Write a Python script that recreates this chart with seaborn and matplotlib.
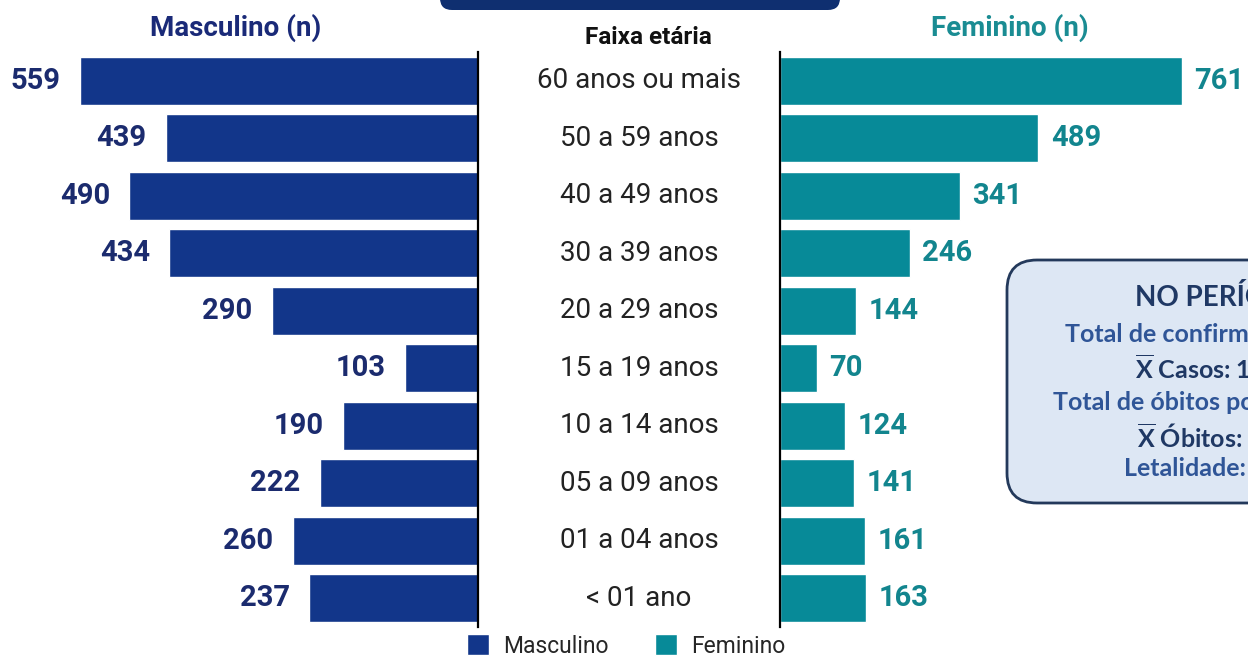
import matplotlib
matplotlib.use('Agg')
import matplotlib.pyplot as plt
import seaborn as sns
import pandas as pd
from matplotlib.patches import FancyBboxPatch, Patch
import matplotlib.transforms as mtransforms

## ---------------- dados ----------------
faixas = ['60 anos ou mais', '50 a 59 anos', '40 a 49 anos', '30 a 39 anos',
          '20 a 29 anos', '15 a 19 anos', '10 a 14 anos', '05 a 09 anos',
          '01 a 04 anos', '< 01 ano']
masculino = [559, 439, 490, 434, 290, 103, 190, 222, 260, 237]
feminino = [761, 489, 341, 246, 144, 70, 124, 141, 161, 163]

quadro_linhas = ['NO PERÍODO', 'Total de confirmados',
                 r'$\overline{\mathbf{X}}$ Casos: 1',
                 'Total de óbitos por', r'$\overline{\mathbf{X}}$ Óbitos:',
                 'Letalidade:']

cor_masc = '#12368a'
cor_fem = '#078a98'
cor_masc_txt = '#1b2b6e'
cor_fem_txt = '#12858e'

df_m = pd.DataFrame({'faixa': faixas, 'n': masculino})
df_f = pd.DataFrame({'faixa': faixas, 'n': feminino})

sns.set_theme(style='white')
plt.rcParams['font.family'] = ['Roboto', 'DejaVu Sans']
plt.rcParams['mathtext.fontset'] = 'custom'
plt.rcParams['mathtext.rm'] = 'Lato'
plt.rcParams['mathtext.bf'] = 'Lato:bold'

W, H = 1248, 657
fig = plt.figure(figsize=(W / 100, H / 100), dpi=100)

top = 1 - 52 / H
bot = 1 - 627 / H
ax_l = fig.add_axes([0, bot, 478 / W, top - bot])
ax_r = fig.add_axes([780 / W, bot, (W - 780) / W, top - bot])

sns.barplot(data=df_m, x='n', y='faixa', ax=ax_l, color=cor_masc,
            saturation=1, width=0.84, orient='h')
sns.barplot(data=df_f, x='n', y='faixa', ax=ax_r, color=cor_fem,
            saturation=1, width=0.84, orient='h')

ax_l.set_xlim(672, 0)
ax_r.set_xlim(0, 886)

for ax in (ax_l, ax_r):
    ax.set(xlabel='', ylabel='')
    ax.tick_params(left=False, labelleft=False, bottom=False, labelbottom=False)
    ax.patch.set_visible(False)
    for s in ax.spines.values():
        s.set_visible(False)
ax_l.spines['right'].set_visible(True)
ax_r.spines['left'].set_visible(True)
for s in (ax_l.spines['right'], ax_r.spines['left']):
    s.set_color('black')
    s.set_linewidth(1.6)

# valores nas pontas das barras
for i, v in enumerate(masculino):
    ax_l.annotate(str(v), xy=(v, i), xytext=(-14, 0), textcoords='offset points',
                  ha='right', va='center', fontsize=21, fontweight='bold',
                  color=cor_masc_txt)
for i, v in enumerate(feminino):
    ax_r.annotate(str(v), xy=(v, i), xytext=(9, 0), textcoords='offset points',
                  ha='left', va='center', fontsize=21, fontweight='bold',
                  color=cor_fem_txt)

# faixas etarias no centro
tr = mtransforms.blended_transform_factory(fig.transFigure, ax_l.transData)
for i, f in enumerate(faixas):
    ax_l.text(639 / W, i, f, transform=tr, ha='center', va='center',
              fontsize=20, color='#222222', clip_on=False)

# titulos
fig.text(236 / W, 1 - 28 / H, 'Masculino (n)', ha='center', va='center',
         fontsize=20, fontweight='bold', color='#1a2a78')
fig.text(1010 / W, 1 - 28 / H, 'Feminino (n)', ha='center', va='center',
         fontsize=20, fontweight='bold', color='#1a8c93')
fig.text(648 / W, 1 - 38 / H, 'Faixa etária', ha='center', va='center',
         fontsize=17.5, fontweight='semibold', color='#111111')

# camada de decoracao em pixels
ov = fig.add_axes([0, 0, 1, 1], zorder=-1)
ov.set_xlim(0, W)
ov.set_ylim(H, 0)
ov.axis('off')

ov.add_patch(FancyBboxPatch((440, -40), 400, 50,
                            boxstyle='round,pad=0,rounding_size=12',
                            fc='#0f2f70', ec='none'))

ov2 = fig.add_axes([0, 0, 1, 1], zorder=5)
ov2.set_xlim(0, W)
ov2.set_ylim(H, 0)
ov2.axis('off')
ov2.add_patch(FancyBboxPatch((1007, 260), 400, 243,
                             boxstyle='round,pad=0,rounding_size=30',
                             fc='#dde7f4', ec='#23395b', lw=2))
xs = [1135, 1065, 1135, 1053, 1137, 1124]
ys = [298, 335, 368, 402, 437, 468]
cores = ['#1f3864', '#2f5597', '#1f3864', '#2f5597', '#1f3864', '#2f5597']
tams = [20, 18, 18, 18, 18, 18]
for txt, x, y, c, t in zip(quadro_linhas, xs, ys, cores, tams):
    ov2.text(x, y, txt, ha='left', va='center', fontsize=t, fontweight='bold',
             color=c, family=['Lato', 'DejaVu Sans'])

# legenda
handles = [Patch(facecolor=cor_masc, label='Masculino'),
           Patch(facecolor=cor_fem, label='Feminino')]
fig.legend(handles=handles, loc='center', bbox_to_anchor=(626 / W, 1 - 646 / H),
           ncol=2, frameon=False, fontsize=16.5, handlelength=1.0,
           handleheight=1.0, handletextpad=0.6, columnspacing=2.0,
           borderaxespad=0)

fig.savefig('out.png', dpi=100)
